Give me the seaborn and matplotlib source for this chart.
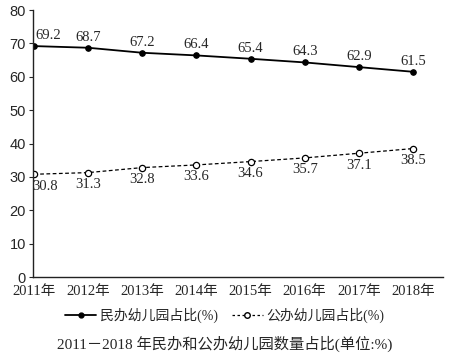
import matplotlib
matplotlib.use("Agg")
import matplotlib.pyplot as plt
import seaborn as sns
import pandas as pd
from matplotlib.lines import Line2D

# -- data
years = ["2011年", "2012年", "2013年", "2014年", "2015年", "2016年", "2017年", "2018年"]
private_pct = [69.2, 68.7, 67.2, 66.4, 65.4, 64.3, 62.9, 61.5]
public_pct = [30.8, 31.3, 32.8, 33.6, 34.6, 35.7, 37.1, 38.5]
y_ticks = [0, 10, 20, 30, 40, 50, 60, 70, 80]
private_name = "民办幼儿园占比(%)"
public_name = "公办幼儿园占比(%)"
title = "2011－2018 年民办和公办幼儿园数量占比(单位:%)"

sns.set_style("ticks")
serif = ["Liberation Serif", "Noto Sans CJK SC", "DejaVu Sans"]
plt.rcParams["font.family"] = serif

df = pd.DataFrame({"x": range(len(years)), "private": private_pct, "public": public_pct})

fig = plt.figure(figsize=(4.5, 3.58), dpi=100)
ax = fig.add_axes([0.073, 0.226, 0.911, 0.746])

sns.lineplot(data=df, x="x", y="private", ax=ax, color="black", linewidth=1.3,
             marker="o", markersize=4, markerfacecolor="black", markeredgecolor="black")
sns.lineplot(data=df, x="x", y="public", ax=ax, color="black", linewidth=0.9,
             linestyle=(0, (3, 2)), marker="o", markersize=4.5,
             markerfacecolor="white", markeredgecolor="black", markeredgewidth=0.9)

# value labels
for i, v in enumerate(private_pct):
    dx = 10 if i == 0 else 0
    ax.annotate(f"{v:.1f}", (i, v), xytext=(dx, 3), textcoords="offset points",
                ha="center", va="bottom", fontsize=10.5)
for i, v in enumerate(public_pct):
    dx = 8 if i == 0 else 0
    ax.annotate(f"{v:.1f}", (i, v), xytext=(dx, -4), textcoords="offset points",
                ha="center", va="top", fontsize=10.5)

ax.set_xlim(-0.02, 7.55)
ax.set_ylim(0, 80)
ax.set_yticks(y_ticks)
ax.set_xticks(range(len(years)))
ax.set_xticklabels(years, fontsize=10.5)
for lab in ax.get_yticklabels():
    lab.set_family(["Liberation Sans", "DejaVu Sans"])
    lab.set_fontsize(10.5)
ax.tick_params(axis="x", length=0, pad=6)
ax.tick_params(axis="y", length=3, width=0.8, pad=2)
ax.set_xlabel("")
ax.set_ylabel("")
sns.despine(ax=ax)
for s in ["left", "bottom"]:
    ax.spines[s].set_linewidth(1.0)
    ax.spines[s].set_color("#222222")

handles = [
    Line2D([], [], color="black", linewidth=1.3, marker="o", markersize=3.5,
           markerfacecolor="black"),
    Line2D([], [], color="black", linewidth=0.9, linestyle=(0, (2, 2)), marker="o",
           markersize=4, markerfacecolor="white"),
]
fig.legend(handles, [private_name, public_name], loc="center",
           bbox_to_anchor=(0.5, 1 - 315 / 358), ncol=2, frameon=False,
           fontsize=10, handlelength=2.2, handletextpad=0.3, columnspacing=1.0)

fig.text(0.5, 1 - 344 / 358, title, ha="center", va="center", fontsize=11)

fig.savefig("out.png", dpi=100)
